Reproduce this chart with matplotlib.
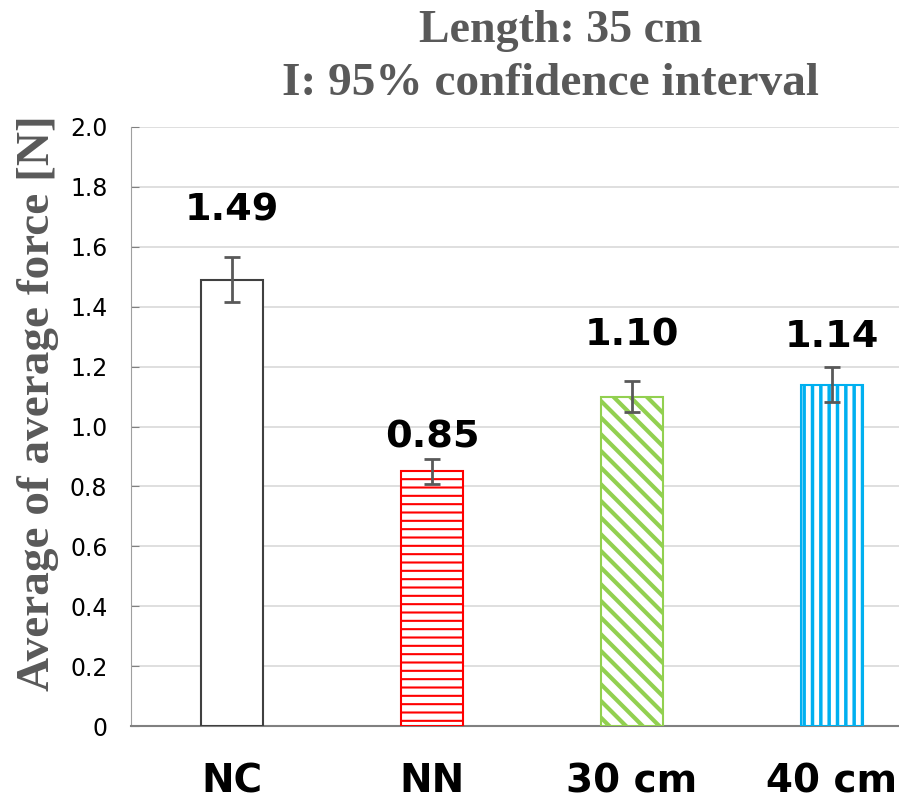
import matplotlib
matplotlib.use("Agg")
import matplotlib.pyplot as plt
import numpy as np

# Data
categories = ["NC", "NN", "30 cm", "40 cm"]
means = [1.49, 0.85, 1.10, 1.14]
ci_half = [0.075, 0.042, 0.053, 0.058]
value_labels = ["1.49", "0.85", "1.10", "1.14"]
label_offsets = [0.172, 0.053, 0.143, 0.098]

edge_colors = ["#404040", "#ff0000", "#92d050", "#00b0f0"]
hatches = [None, "--", "\\\\", "||"]
hatch_widths = [1.0, 1.5, 3.0, 2.5]

grey = "#595959"

fig = plt.figure(figsize=(8.99, 8.01), dpi=100)
ax = fig.add_axes([131 / 899, 1 - 726 / 801, 768 / 899, 599 / 801])

x = np.arange(len(categories))
for i in range(len(categories)):
    plt.rcParams["hatch.linewidth"] = hatch_widths[i]
    ax.bar(x[i], means[i], width=0.31, color="white",
           edgecolor=edge_colors[i], linewidth=1.5,
           hatch=hatches[i], zorder=3)

ax.errorbar(x, means, yerr=ci_half, fmt="none", ecolor=grey,
            elinewidth=2, capsize=5.5, capthick=2, zorder=4)

for i in range(len(categories)):
    ax.text(x[i], means[i] + label_offsets[i], value_labels[i],
            ha="center", va="bottom", fontsize=27.5, fontweight="bold",
            family="DejaVu Sans", color="black")

ax.set_xlim(-0.505, 3.335)
ax.set_ylim(0, 2.0)
ax.set_yticks(np.arange(0, 2.01, 0.2))
ax.set_yticklabels(["0"] + ["%.1f" % v for v in np.arange(0.2, 2.01, 0.2)])
ax.set_xticks(x)
ax.set_xticklabels(categories, fontsize=28, fontweight="bold")
ax.tick_params(axis="x", length=0, pad=26)
ax.tick_params(axis="y", direction="in", length=6, color="#808080",
               labelsize=17, pad=17)

ax.yaxis.grid(True, color="#d9d9d9", linewidth=1.2, zorder=0)
ax.set_axisbelow(True)
for s in ["top", "right"]:
    ax.spines[s].set_visible(False)
ax.spines["left"].set_color("#a0a0a0")
ax.spines["bottom"].set_color("#808080")
ax.spines["bottom"].set_linewidth(1.5)

fig.text(38 / 899, 1 - 403 / 801, "Average of average force [N]",
         rotation=90, ha="center", va="center", fontsize=34,
         fontweight="bold", family="Liberation Serif", color=grey)

fig.text(561 / 899, 1 - 31 / 801, "Length: 35 cm", ha="center", va="center",
         fontsize=33, fontweight="bold", family="Liberation Serif", color=grey)
fig.text(550 / 899, 1 - 84 / 801, "I: 95% confidence interval", ha="center",
         va="center", fontsize=34, fontweight="bold",
         family="Liberation Serif", color=grey)

fig.savefig("out.png", dpi=100)
